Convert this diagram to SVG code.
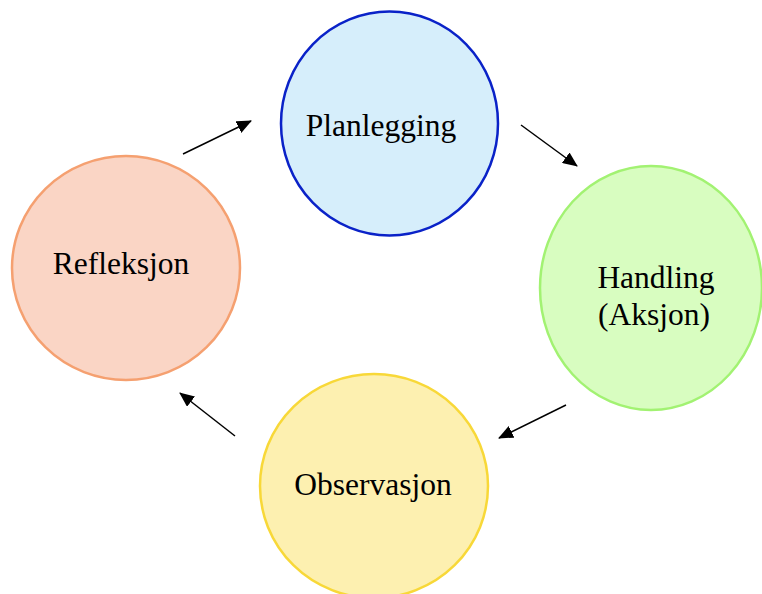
<svg xmlns="http://www.w3.org/2000/svg" width="762" height="594" viewBox="0 0 762 594">
<style>
text{font-family:"Liberation Serif","Times New Roman",serif;font-size:31.5px;fill:#000;text-anchor:middle}
.c{stroke-width:2.5}
.e{stroke:#000;stroke-width:1.5;fill:none;marker-end:url(#ah)}
</style>
<defs>
<marker id="ah" markerWidth="15" markerHeight="13" refX="14" refY="6.5" orient="auto" markerUnits="userSpaceOnUse" viewBox="0 0 15 13">
<path d="M0,0 L15,6.5 L0,13 z" fill="#000"/>
</marker>
</defs>
<rect width="762" height="594" fill="#fff"/>
<g id="planlegging">
<ellipse class="c" cx="389.5" cy="123.5" rx="108.5" ry="112" fill="#d6eefb" stroke="#0a22c8"/>
<text x="381" y="136">Planlegging</text>
</g>
<g id="handling">
<ellipse class="c" cx="651" cy="288" rx="111" ry="122" fill="#d8fdc0" stroke="#a2f272"/>
<text x="656" y="288">Handling</text>
<text x="654" y="325">(Aksjon)</text>
</g>
<g id="observasjon">
<ellipse class="c" cx="374" cy="486" rx="114" ry="112" fill="#fdf0b0" stroke="#f8d838"/>
<text x="373" y="495">Observasjon</text>
</g>
<g id="refleksjon">
<ellipse class="c" cx="126" cy="268" rx="114" ry="112" fill="#fad5c5" stroke="#f5a070"/>
<text x="121" y="274">Refleksjon</text>
</g>
<g id="connectors">
<line class="e" x1="183" y1="154" x2="251" y2="121"/>
<line class="e" x1="521" y1="125" x2="577" y2="166"/>
<line class="e" x1="566" y1="405" x2="499" y2="438"/>
<line class="e" x1="235" y1="436" x2="180" y2="393"/>
</g>
</svg>
